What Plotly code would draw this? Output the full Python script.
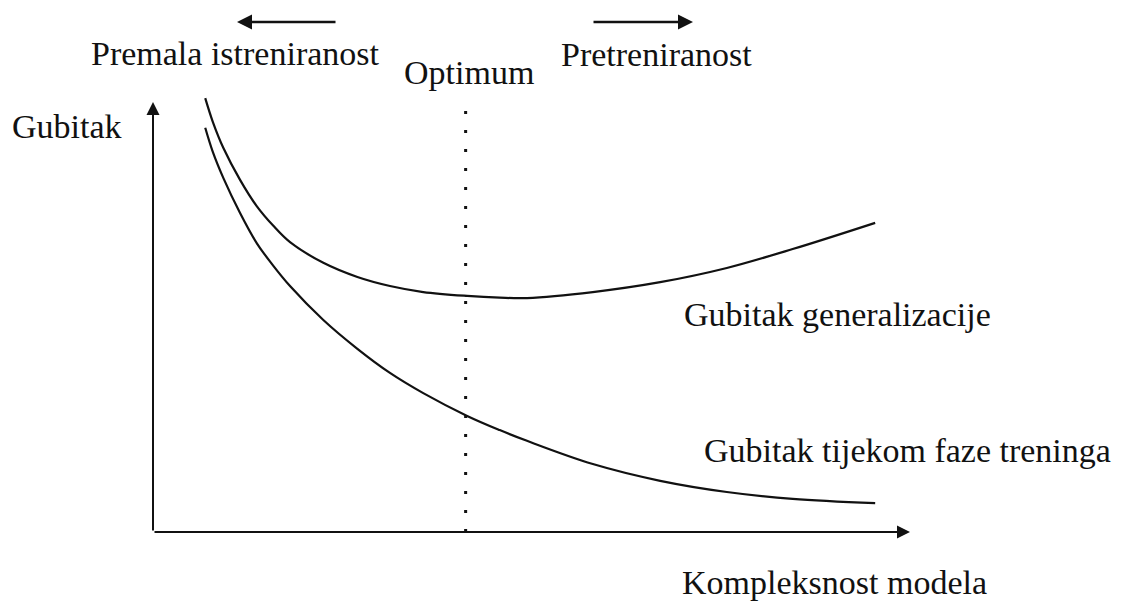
import plotly.graph_objects as go

# ---- data ----
complexity = [0.69, 0.79, 0.93, 1.15, 1.37, 1.59, 1.81, 2.25, 2.70, 3.13, 3.57, 4.15,
              4.58, 4.94, 5.81, 6.70, 7.58, 8.45, 9.54]
gen_loss = [10.09, 9.54, 8.93, 8.19, 7.58, 7.12, 6.74, 6.26, 5.93, 5.72, 5.58, 5.49,
            5.45, 5.44, 5.58, 5.81, 6.14, 6.58, 7.19]
train_loss = [9.40, 8.84, 8.23, 7.42, 6.72, 6.19, 5.72, 4.93, 4.26, 3.70, 3.23, 2.70,
              2.37, 2.12, 1.58, 1.19, 0.93, 0.77, 0.67]
optimum_x = 4.13
axis_max_x = 10.0
axis_max_y = 10.0

W, H = 1121, 603
OX, OY = 153, 532      # pixel of axis origin
SX, SY = 75.7, 43.0    # pixels per unit


def dx(px):
    return (px - OX) / SX


def dy(py):
    return (OY - py) / SY


INK = "#111111"
FONT = dict(family="Liberation Serif, Times New Roman, serif", size=34, color=INK)

fig = go.Figure()

fig.add_trace(go.Scatter(x=complexity, y=gen_loss, mode="lines",
                         line=dict(color=INK, width=2.2, shape="spline", smoothing=1.0),
                         name="Gubitak generalizacije", hoverinfo="skip"))
fig.add_trace(go.Scatter(x=complexity, y=train_loss, mode="lines",
                         line=dict(color=INK, width=2.2, shape="spline", smoothing=1.0),
                         name="Gubitak tijekom faze treninga", hoverinfo="skip"))

# dotted optimum line
fig.add_trace(go.Scatter(x=[optimum_x, optimum_x], y=[0, dy(107)], mode="lines",
                         line=dict(color=INK, width=3, dash="3px,16px"), hoverinfo="skip",
                         showlegend=False))

annotations = []

# axes arrows
annotations.append(dict(x=axis_max_x, y=0, ax=0, ay=0, xref="x", yref="y", axref="x", ayref="y",
                        text="", showarrow=True, arrowhead=2, arrowsize=1.3, arrowwidth=2, arrowcolor=INK))
annotations.append(dict(x=0, y=axis_max_y, ax=0, ay=0, xref="x", yref="y", axref="x", ayref="y",
                        text="", showarrow=True, arrowhead=2, arrowsize=1.3, arrowwidth=2, arrowcolor=INK))

# top arrows
annotations.append(dict(x=dx(237), y=dy(22), ax=dx(337), ay=dy(22), xref="x", yref="y", axref="x", ayref="y",
                        text="", showarrow=True, arrowhead=2, arrowsize=1.2, arrowwidth=2.5, arrowcolor=INK))
annotations.append(dict(x=dx(693), y=dy(22), ax=dx(592), ay=dy(22), xref="x", yref="y", axref="x", ayref="y",
                        text="", showarrow=True, arrowhead=2, arrowsize=1.2, arrowwidth=2.5, arrowcolor=INK))

labels = [
    ("Premala istreniranost", 89, 53),
    ("Optimum", 402, 72),
    ("Pretreniranost", 559, 54),
    ("Gubitak", 10, 126),
    ("Gubitak generalizacije", 682, 314),
    ("Gubitak tijekom faze treninga", 702, 450),
    ("Kompleksnost modela", 680, 582),
]
for txt, px, py in labels:
    annotations.append(dict(x=dx(px), y=dy(py), xref="x", yref="y", text=txt, showarrow=False,
                            xanchor="left", yanchor="middle", font=FONT))

fig.update_layout(
    width=W, height=H,
    margin=dict(l=0, r=0, t=0, b=0),
    paper_bgcolor="white", plot_bgcolor="white",
    showlegend=False,
    xaxis=dict(range=[dx(0), dx(W)], visible=False, fixedrange=True),
    yaxis=dict(range=[dy(H), dy(0)], visible=False, fixedrange=True),
    annotations=annotations,
)

fig.write_html(
    "out.html",
    config={"displayModeBar": False},
    post_script="document.body.style.margin='0';document.body.style.padding='0';"
                "document.documentElement.style.overflow='hidden';",
)
